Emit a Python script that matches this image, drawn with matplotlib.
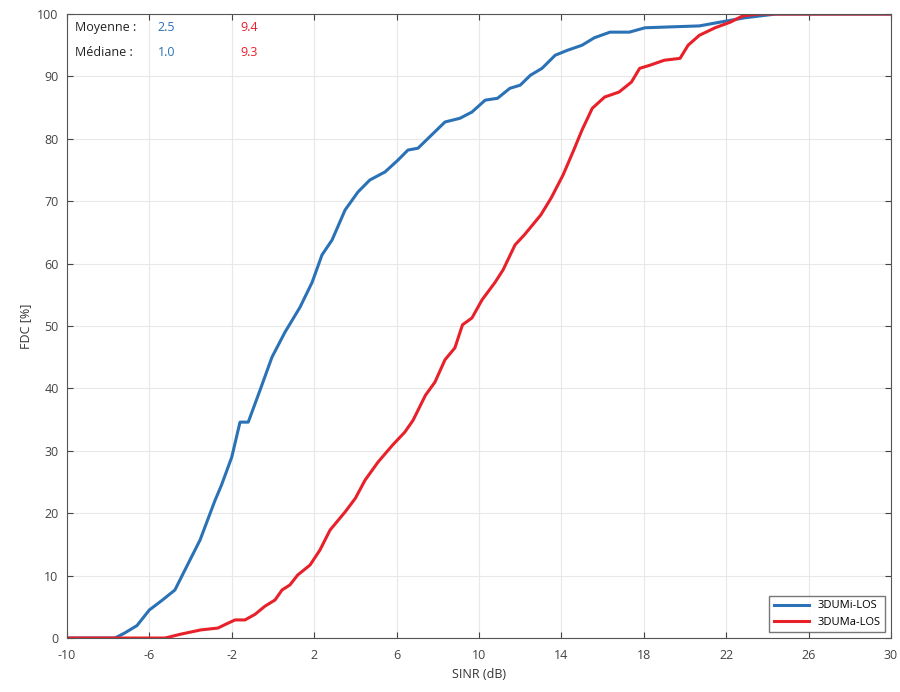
import matplotlib.pyplot as plt

# FDC du SINR pour deux scenarios
umi_x = [-10, -7.67, -7.2, -6.6, -6.0, -5.4, -4.76, -4.03, -3.54, -2.82, -2.5, -2.0, -1.6, -1.2,
         -0.63, -0.05, 0.58, 1.31, 1.9, 2.38, 2.87, 3.5, 4.13, 4.7, 5.44, 6.07, 6.55, 7.04,
         7.6, 8.35, 9.08, 9.66, 10.3, 10.9, 11.5, 12.0, 12.5, 13.06, 13.7, 14.3, 15.0, 15.6,
         16.36, 17.3, 18.06, 20.7, 21.7, 22.9, 24.4, 30]
umi_y = [0, 0, 0.8, 2.0, 4.5, 6.0, 7.7, 12.5, 15.7, 22, 24.5, 29, 34.6, 34.6,
         39.7, 45, 49, 53, 57, 61.4, 63.8, 68.6, 71.5, 73.4, 74.7, 76.6, 78.2, 78.5,
         80.3, 82.7, 83.3, 84.3, 86.2, 86.5, 88.1, 88.6, 90.2, 91.3, 93.4, 94.2, 95, 96.2,
         97.1, 97.1, 97.8, 98.1, 98.7, 99.4, 100, 100]

uma_x = [-10, -5.24, -4.5, -3.5, -2.67, -2.3, -1.84, -1.36, -0.87, -0.39, 0.1, 0.44, 0.82,
         1.2, 1.8, 2.28, 2.77, 3.5, 4.0, 4.47, 5.1, 5.8, 6.4, 6.8, 7.4, 7.86, 8.35, 8.83,
         9.2, 9.66, 10.15, 10.78, 11.17, 11.75, 12.2, 13.0, 13.5, 14.08, 14.6, 15.0, 15.5,
         16.1, 16.8, 17.4, 17.8, 18.3, 19.0, 19.76, 20.15, 20.7, 21.46, 22.2, 22.8, 23.6, 30]
uma_y = [0, 0, 0.6, 1.3, 1.6, 2.2, 2.9, 2.9, 3.8, 5.1, 6.1, 7.7, 8.5,
         10.1, 11.7, 14.1, 17.3, 20.2, 22.4, 25.3, 28.2, 30.9, 33, 34.9, 38.9, 41, 44.6, 46.5,
         50.2, 51.3, 54.2, 57, 59, 63, 64.6, 67.8, 70.5, 74.2, 78.2, 81.4, 84.9,
         86.7, 87.5, 89.1, 91.3, 91.8, 92.6, 92.9, 95, 96.6, 97.8, 98.7, 99.7, 100, 100]

x_ticks = list(range(-10, 31, 4))
y_ticks = list(range(0, 101, 10))

blue = '#2a72b5'
red = '#e8202a'

plt.rcParams['font.family'] = ['Open Sans', 'DejaVu Sans']
plt.rcParams['axes.unicode_minus'] = False
fig = plt.figure(figsize=(9, 6.92), dpi=100)
ax = fig.add_axes([0.0744, 0.078, 0.9156, 0.9017])

ax.plot(umi_x, umi_y, color=blue, lw=2.2, label='3DUMi-LOS')
ax.plot(uma_x, uma_y, color=red, lw=2.2, label='3DUMa-LOS')

ax.set_xlim(-10, 30)
ax.set_ylim(0, 100)
ax.set_xticks(x_ticks)
ax.set_yticks(y_ticks)
ax.grid(True, color='#e8e8e8', lw=0.8)
ax.tick_params(direction='in', colors='#444444', labelsize=9, length=4, top=True, right=True)
ax.tick_params(axis='x', pad=8)
ax.tick_params(axis='y', pad=6)
for s in ax.spines.values():
    s.set_color('#555555')
    s.set_linewidth(0.8)

ax.set_xlabel('SINR (dB)', fontsize=9, color='#333333', labelpad=4)
ax.set_ylabel('FDC [%]', fontsize=9, color='#333333')

ax.text(-9.6, 97.3, 'Moyenne :', fontsize=9, color='#222222')
ax.text(-9.6, 93.3, 'Médiane :', fontsize=9, color='#222222')
ax.text(-5.6, 97.3, '2.5', fontsize=9, color=blue)
ax.text(-5.6, 93.3, '1.0', fontsize=9, color=blue)
ax.text(-1.6, 97.3, '9.4', fontsize=9, color=red)
ax.text(-1.6, 93.3, '9.3', fontsize=9, color=red)

ax.legend(loc='lower right', fontsize=8, frameon=True, fancybox=False,
          edgecolor='#555555', handlelength=3.2, borderpad=0.4)

plt.savefig('out.png', dpi=100)
